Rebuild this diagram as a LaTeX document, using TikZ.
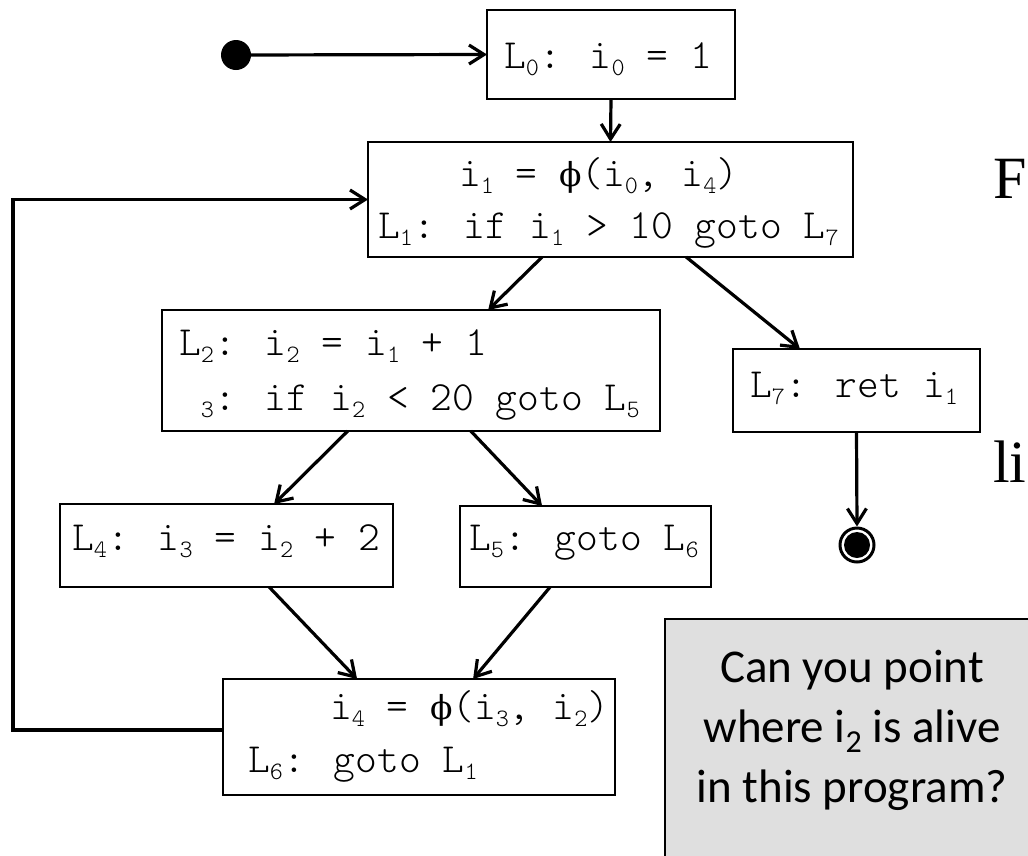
\documentclass[tikz,border=0pt]{standalone}
\usepackage{fontspec}
\newfontfamily\codefont{Latin Modern Mono Light}
\newfontfamily\calfont{Carlito}
\newfontfamily\tmsfont{Liberation Serif}
\newfontfamily\phfont{DejaVu Serif}
\usetikzlibrary{arrows.meta,calc}
\newcommand{\ssub}[1]{\raisebox{-7pt}{\fontsize{25}{25}\selectfont #1}}
\newcommand{\csub}[1]{\raisebox{-10pt}{\fontsize{32}{32}\selectfont #1}}
\newcommand{\phisym}{\makebox[21.8pt]{\phfont\fontsize{33}{33}\selectfont ϕ}}
\begin{document}
\begin{tikzpicture}[x=1pt,y=-1pt,
  box/.style={draw, line width=1.8pt, inner sep=0pt, outer sep=0pt},
  code/.style={font=\codefont\fontsize{41.5}{44}\selectfont, inner sep=0pt, anchor=base west},
  qtext/.style={font=\calfont\fontsize{47}{52}\selectfont, inner sep=0pt, anchor=base},
  arr/.style={line width=3.2pt, -{Straight Barb[length=15pt,width=19pt]}}
]
\useasboundingbox (0,0) rectangle (1028,855);
\clip (0,0) rectangle (1028,855);

% boxes
\node[box, minimum width=248pt, minimum height=89pt] (L0box) at (611,54.5) {};
\node[box, minimum width=485pt, minimum height=115pt] (L1box) at (610.5,199.5) {};
\node[box, minimum width=498pt, minimum height=121pt] (L2box) at (411,370.5) {};
\node[box, minimum width=247pt, minimum height=83pt] (L7box) at (856.5,390.5) {};
\node[box, minimum width=333pt, minimum height=83pt] (L4box) at (226.5,545.5) {};
\node[box, minimum width=251pt, minimum height=81pt] (L5box) at (585.5,546.5) {};
\node[box, minimum width=392pt, minimum height=116pt] (L6box) at (419,737) {};

% code texts
\node[code] (t0) at (504,68) {L\ssub{0}: i\ssub{0} = 1};
\node[code] (t1a) at (459,186) {i\ssub{1} = \phisym(i\ssub{0}, i\ssub{4})};
\node[code] (t1b) at (378,238) {L\ssub{1}: if i\ssub{1} > 10 goto L\ssub{7}};
\node[code] (t2a) at (179,355) {L\ssub{2}: i\ssub{2} = i\ssub{1} + 1};
\node[code] (t2b) at (179,410) {\phantom{L}\ssub{3}: if i\ssub{2} < 20 goto L\ssub{5}};
\node[code] (t7) at (750,397) {L\ssub{7}: ret i\ssub{1}};
\node[code] (t4) at (72,550) {L\ssub{4}: i\ssub{3} = i\ssub{2} + 2};
\node[code] (t5) at (469,550) {L\ssub{5}: goto L\ssub{6}};
\node[code] (t6a) at (330,719) {i\ssub{4} = \phisym(i\ssub{3}, i\ssub{2})};
\node[code] (t6b) at (248,772) {L\ssub{6}: goto L\ssub{1}};

% start and end
\node[circle, fill=black, minimum size=30pt, inner sep=0pt] (start) at (236,55) {};
\node[circle, draw=black, line width=3pt, minimum size=34pt, inner sep=0pt] (endc) at (857,545) {};
\node[circle, fill=black, minimum size=26pt, inner sep=0pt] (endin) at (857,545) {};

% connectors
\draw[arr] (start) -- (L0box.west);
\draw[arr] (L0box.south) -- (L1box.north);
\draw[arr] ($(L1box.south west)!0.359!(L1box.south east)$) -- ($(L2box.north west)!0.655!(L2box.north east)$);
\draw[arr] ($(L1box.south west)!0.656!(L1box.south east)$) -- ($(L7box.north west)!0.271!(L7box.north east)$);
\draw[arr] ($(L2box.south west)!0.373!(L2box.south east)$) -- ($(L4box.north west)!0.643!(L4box.north east)$);
\draw[arr] ($(L2box.south west)!0.620!(L2box.south east)$) -- ($(L5box.north west)!0.327!(L5box.north east)$);
\draw[arr] ($(L4box.south west)!0.628!(L4box.south east)$) -- ($(L6box.north west)!0.342!(L6box.north east)$);
\draw[arr] ($(L5box.south west)!0.359!(L5box.south east)$) -- ($(L6box.north west)!0.638!(L6box.north east)$);
\draw[arr] (L7box.south) -- (endc.north);
\coordinate (bl) at (13,730);
\draw[arr] (L6box.west |- bl) -- (bl) -- (bl |- L1box.west) -- (L1box.west);

% question box
\node[draw=black, line width=1.8pt, fill=gray!25, minimum width=390pt, minimum height=270pt, anchor=north west, inner sep=0pt] (qbox) at (664,618) {};
\node[qtext] (q1) at (852,682) {Can you point};
\node[qtext] (q2) at (852,742) {where i\csub{2} is alive};
\node[qtext] (q3) at (852,802) {in this program?};

% words at right edge
\node[font=\tmsfont\fontsize{60}{60}\selectfont, inner sep=0pt, anchor=base west] (wf) at (993,198) {F};
\node[font=\tmsfont\fontsize{60}{60}\selectfont, inner sep=0pt, anchor=base west] (wli) at (993,482) {li};
\end{tikzpicture}
\end{document}
